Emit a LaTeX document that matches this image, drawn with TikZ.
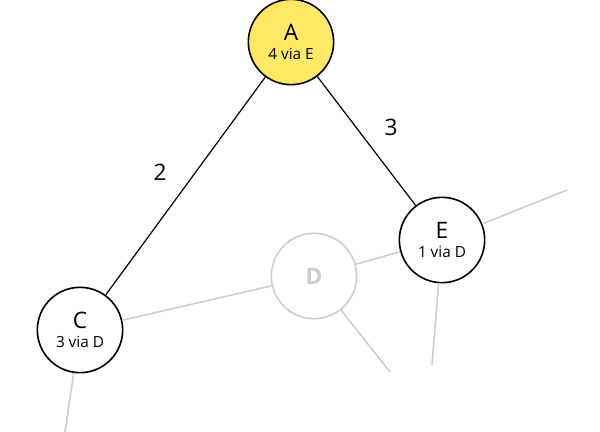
\documentclass[tikz,border=0pt]{standalone}
\usepackage{fontspec}
\setmainfont{Open Sans}
\begin{document}
\begin{tikzpicture}[
    x=0.75pt, y=-0.75pt,
    % Common Styles
    router/.style={
        circle,
        draw=black,
        line width=1.2pt,
        fill=white,
        minimum size=64pt,
        inner sep=0pt,
        align=center,
        font=\fontsize{17}{17}\selectfont
    },
    faded/.style={
        router,
        draw=black!20,
        text=black!20
    },
    link/.style={
        black,
        line width=0.9pt
    },
    dimlink/.style={
        black!20,
        line width=1.2pt
    },
    cost_text/.style={
        font=\fontsize{17}{17}\selectfont
    }
]
    \useasboundingbox (0,0) rectangle (600,432);

    % Routers
    \node[router, fill=orange!30!yellow!60] (A) at (291,42) {A\\[-3pt]{\fontsize{11.5}{12}\selectfont 4 via E}};
    \node[router] (E) at (442,240) {E\\[-3pt]{\fontsize{11.5}{12}\selectfont 1 via D}};
    \node[faded] (D) at (314,276) {\textbf{D}};
    \node[router] (C) at (80,330) {C\\[-3pt]{\fontsize{11.5}{12}\selectfont 3 via D}};

    % Loose ends
    \coordinate (e1) at (567,190);
    \coordinate (e2) at (432,365);
    \coordinate (d1) at (390,372);
    \coordinate (c1) at (65,432);

    % Active links
    \draw[link] (A) -- (C);
    \draw[link] (A) -- (E);

    % Faded links
    \draw[dimlink] (C) -- (D);
    \draw[dimlink] (D) -- (E);
    \draw[dimlink] (E) -- (e1);
    \draw[dimlink] (E) -- (e2);
    \draw[dimlink] (D) -- (d1);
    \draw[dimlink] (C) -- (c1);

    % Costs
    \node[cost_text] (w2) at (160,172) {2};
    \node[cost_text] (w3) at (391,127) {3};
\end{tikzpicture}
\end{document}
